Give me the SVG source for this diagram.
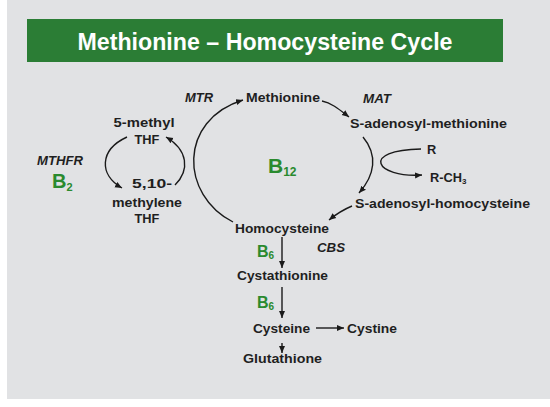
<svg xmlns="http://www.w3.org/2000/svg" width="550" height="407" viewBox="0 0 550 407">
<defs>
<marker id="ah" markerWidth="8" markerHeight="8" refX="7" refY="4" orient="auto" markerUnits="userSpaceOnUse">
<path d="M0,1 L7,4 L0,7 Z" fill="#1a1a1a"/>
</marker>
<style>
.t{font-family:"Liberation Sans",Arial,sans-serif;font-weight:bold;font-size:12.8px;fill:#1f1f1f}
.e{font-family:"Liberation Sans",Arial,sans-serif;font-weight:bold;font-style:italic;font-size:12px;fill:#1f1f1f}
.g{font-family:"Liberation Sans",Arial,sans-serif;font-weight:bold;fill:#2a8a2e}
.c{fill:none;stroke:#1a1a1a;stroke-width:1.4;marker-end:url(#ah)}
</style>
</defs>
<rect x="0" y="0" width="550" height="407" fill="#ffffff"/>
<rect x="7" y="0" width="543" height="399" fill="#e1e2e4"/>
<g id="title">
<rect x="27" y="19" width="476" height="43" fill="#2b7d35"/>
<text x="265" y="50" text-anchor="middle" font-family="'Liberation Sans',Arial,sans-serif" font-weight="bold" font-size="23" fill="#ffffff" textLength="375" lengthAdjust="spacingAndGlyphs">Methionine – Homocysteine Cycle</text>
</g>
<g id="connectors">
<path class="c" d="M233 222 C180 195 178 120 243 100"/>
<path class="c" d="M322 101 C332 103 340 110 349 117"/>
<path class="c" d="M363 137 C378 155 375 175 359 193"/>
<path class="c" d="M421 149 C360 150 375 178 422 175"/>
<path class="c" d="M352 206 Q340 211 329 220"/>
<path class="c" d="M127 137 C99 150 99 175 122 188"/>
<path class="c" d="M175 185 C190 170 188 150 166 137"/>
<path class="c" d="M282 237 L282 268"/>
<path class="c" d="M282 287 L282 318"/>
<path class="c" d="M282 343 L282 353"/>
<path class="c" d="M316 328 L344 328"/>
</g>
<g id="methionine"><text class="t" x="246" y="102" textLength="74" lengthAdjust="spacingAndGlyphs">Methionine</text></g>
<g id="sam"><text class="t" x="350" y="128" textLength="157" lengthAdjust="spacingAndGlyphs">S-adenosyl-methionine</text></g>
<g id="r"><text class="t" x="427" y="154">R</text></g>
<g id="rch3"><text class="t" x="430" y="182">R-CH<tspan font-size="8" dy="2">3</tspan></text></g>
<g id="sah"><text class="t" x="355" y="208" textLength="175" lengthAdjust="spacingAndGlyphs">S-adenosyl-homocysteine</text></g>
<g id="methylthf">
<text class="t" x="144" y="127" text-anchor="middle" textLength="61" lengthAdjust="spacingAndGlyphs">5-methyl</text>
<text class="t" x="147" y="144" text-anchor="middle">THF</text>
</g>
<g id="methylenethf">
<text class="t" x="152" y="188" text-anchor="middle" textLength="40" lengthAdjust="spacingAndGlyphs">5,10-</text>
<text class="t" x="147" y="207" text-anchor="middle" textLength="70" lengthAdjust="spacingAndGlyphs">methylene</text>
<text class="t" x="147" y="223" text-anchor="middle">THF</text>
</g>
<g id="homocysteine"><text class="t" x="235" y="233" textLength="94" lengthAdjust="spacingAndGlyphs">Homocysteine</text></g>
<g id="cystathionine"><text class="t" x="237" y="280" textLength="91" lengthAdjust="spacingAndGlyphs">Cystathionine</text></g>
<g id="cysteine"><text class="t" x="253" y="333" textLength="57" lengthAdjust="spacingAndGlyphs">Cysteine</text></g>
<g id="cystine"><text class="t" x="347" y="333" textLength="50" lengthAdjust="spacingAndGlyphs">Cystine</text></g>
<g id="glutathione"><text class="t" x="243" y="363" textLength="79" lengthAdjust="spacingAndGlyphs">Glutathione</text></g>
<g id="enzymes">
<text class="e" x="185" y="102" textLength="28" lengthAdjust="spacingAndGlyphs">MTR</text>
<text class="e" x="363" y="103" textLength="28" lengthAdjust="spacingAndGlyphs">MAT</text>
<text class="e" x="37" y="165" textLength="46" lengthAdjust="spacingAndGlyphs">MTHFR</text>
<text class="e" x="317" y="252" textLength="28" lengthAdjust="spacingAndGlyphs">CBS</text>
</g>
<g id="vitamins">
<text class="g" x="268" y="173" font-size="21">B<tspan font-size="12" dy="3">12</tspan></text>
<text class="g" x="52" y="188" font-size="20">B<tspan font-size="11" dy="3">2</tspan></text>
<text class="g" x="257" y="257" font-size="16">B<tspan font-size="10" dy="2">6</tspan></text>
<text class="g" x="257" y="308" font-size="16">B<tspan font-size="10" dy="2">6</tspan></text>
</g>
</svg>
